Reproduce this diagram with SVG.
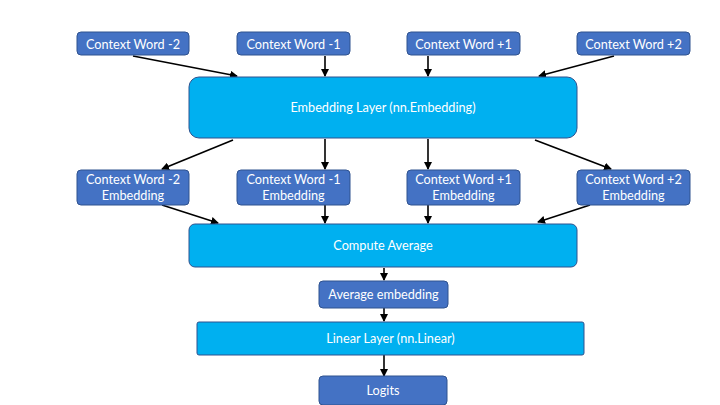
<svg xmlns="http://www.w3.org/2000/svg" width="720" height="405" viewBox="0 0 720 405">
<defs>
<marker id="ah" markerWidth="8" markerHeight="8" refX="7" refY="4" orient="auto" markerUnits="userSpaceOnUse">
<path d="M0,0 L8,4 L0,8 z" fill="#000"/>
</marker>
<style>
.w{fill:#4472C4;stroke:#2F528F;stroke-width:1}
.c{fill:#00B0F0;stroke:#2F528F;stroke-width:1}
text{font-family:Lato,"Open Sans","Liberation Sans",sans-serif;font-size:12.7px;fill:#fff;text-anchor:middle}
.e line{stroke:#000;stroke-width:1.6;marker-end:url(#ah)}
</style>
</defs>
<rect width="720" height="405" fill="#fff"/>
<g class="e" id="connectors">
<line x1="133" y1="56" x2="237" y2="76"/>
<line x1="325" y1="56" x2="325" y2="76"/>
<line x1="428" y1="56" x2="428" y2="76"/>
<line x1="614" y1="56" x2="539" y2="76"/>
<line x1="233" y1="140" x2="162" y2="169"/>
<line x1="325" y1="139" x2="325" y2="169"/>
<line x1="428" y1="139" x2="428" y2="169"/>
<line x1="535" y1="140" x2="611" y2="169"/>
<line x1="162" y1="205" x2="218" y2="223"/>
<line x1="325" y1="205" x2="325" y2="223"/>
<line x1="428" y1="205" x2="428" y2="223"/>
<line x1="590" y1="205" x2="538" y2="222"/>
<line x1="384" y1="268" x2="384" y2="280"/>
<line x1="384" y1="308" x2="384" y2="321"/>
<line x1="384" y1="355" x2="384" y2="376"/>
</g>
<g id="cw-2"><rect class="w" x="77" y="32" width="112" height="23" rx="4"/><text x="133" y="48.5">Context Word -2</text></g>
<g id="cw-1"><rect class="w" x="237" y="32" width="113" height="23" rx="4"/><text x="293.5" y="48.5">Context Word -1</text></g>
<g id="cw1"><rect class="w" x="407" y="32" width="113" height="23" rx="4"/><text x="463.5" y="48.5">Context Word +1</text></g>
<g id="cw2"><rect class="w" x="577" y="32" width="113" height="23" rx="4"/><text x="633.5" y="48.5">Context Word +2</text></g>
<g id="embLayer"><rect class="c" x="189" y="77" width="388" height="61" rx="10"/><text x="383" y="112">Embedding Layer (nn.Embedding)</text></g>
<g id="e-2"><rect class="w" x="77" y="170" width="112" height="35" rx="4"/><text x="133" y="184">Context Word -2</text><text x="133" y="200">Embedding</text></g>
<g id="e-1"><rect class="w" x="237" y="170" width="113" height="35" rx="4"/><text x="293.5" y="184">Context Word -1</text><text x="293.5" y="200">Embedding</text></g>
<g id="e1"><rect class="w" x="407" y="170" width="113" height="35" rx="4"/><text x="463.5" y="184">Context Word +1</text><text x="463.5" y="200">Embedding</text></g>
<g id="e2"><rect class="w" x="577" y="170" width="113" height="35" rx="4"/><text x="633.5" y="184">Context Word +2</text><text x="633.5" y="200">Embedding</text></g>
<g id="avg"><rect class="c" x="189" y="224" width="388" height="43" rx="6"/><text x="383" y="250">Compute Average</text></g>
<g id="avgEmb"><rect class="w" x="319" y="281" width="129" height="27" rx="4"/><text x="383.5" y="299">Average embedding</text></g>
<g id="linear"><rect class="c" x="197" y="322" width="387" height="33" rx="2"/><text x="390.5" y="343">Linear Layer (nn.Linear)</text></g>
<g id="logits"><rect class="w" x="319" y="376" width="128" height="29" rx="4"/><text x="383" y="395">Logits</text></g>
</svg>
